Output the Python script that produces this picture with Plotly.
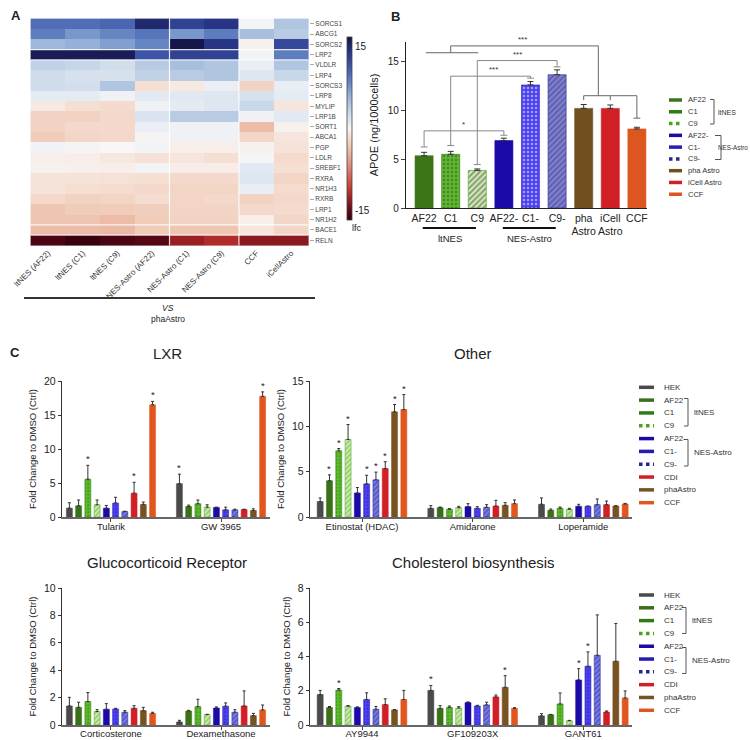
import plotly.graph_objects as go

W, H = 750, 740
FONT = "Liberation Sans, Arial, sans-serif"

# ---------------- Panel A data ----------------
genes = ["SORCS1", "ABCG1", "SORCS2", "LRP2", "VLDLR", "LRP4", "SORCS3", "LRP8", "MYLIP",
         "LRP1B", "SORT1", "ABCA1", "PGP", "LDLR", "SREBF1", "RXRA", "NR1H3", "RXRB",
         "LRP1", "NR1H2", "BACE1", "RELN"]
samples = ["ltNES (AF22)", "ltNES (C1)", "ltNES (C9)", "NES-Astro (AF22)",
           "NES-Astro (C1)", "NES-Astro (C9)", "CCF", "iCellAstro"]
lfc = [
    [10.0, 10.0, 10.5, 15.0, 13.0, 14.0, 0.2, 4.5],
    [9.0, 7.5, 8.5, 9.5, 7.5, 9.0, 5.0, 4.0],
    [5.5, 6.0, 7.0, 8.5, 16.5, 14.0, -0.3, 12.5],
    [16.0, 16.0, 16.0, 11.5, 13.0, 13.0, 0.3, 9.0],
    [3.5, 3.2, 2.3, 4.0, 5.0, 4.5, 0.8, 4.5],
    [2.5, 2.0, 2.0, 3.5, 4.0, 4.5, 1.5, 3.0],
    [2.5, 2.3, 4.5, -1.5, -0.8, 0.7, -2.5, 0.8],
    [1.0, 1.0, 0.5, 1.2, 1.3, 1.5, 2.0, 1.0],
    [-0.8, -1.5, -1.8, 0.5, 1.0, 1.5, 3.0, -1.0],
    [-2.5, -2.5, -2.0, 1.8, 4.0, 4.0, 0.5, 1.2],
    [-2.5, -2.0, -2.0, 0.7, 0.5, 0.5, -4.0, -0.3],
    [-3.0, -2.2, -2.0, 0.2, 0.5, 0.5, -2.2, -1.0],
    [0.4, 0.2, 0.0, 0.3, -0.5, -0.5, -0.3, -1.2],
    [-0.5, -0.5, -0.9, -1.3, -1.0, -1.5, 0.1, -1.8],
    [-0.3, -0.4, -0.5, 0.3, -0.6, -0.6, 1.2, -1.5],
    [-1.2, -1.2, -1.3, -1.5, -2.0, -2.0, 1.5, -2.3],
    [-1.2, -1.5, -1.7, -2.0, -2.3, -2.3, 0.8, -1.8],
    [-2.0, -2.5, -2.3, -1.7, -2.3, -2.0, -2.5, -2.0],
    [-3.5, -3.0, -3.0, -2.7, -2.3, -2.3, -2.0, -1.8],
    [-3.5, -3.5, -4.0, -3.0, -2.5, -2.5, -0.5, -2.2],
    [-4.0, -4.0, -4.2, -3.0, -3.5, -3.5, -1.0, -2.2],
    [-16.0, -17.0, -16.0, -15.5, -13.0, -12.0, -13.5, -13.5],
]
cbar_ticks = [15, -15]

# ---------------- Panel B data ----------------
apoe_groups = ["AF22", "C1", "C9", "AF22-", "C1-", "C9-", "pha<br>Astro", "iCell<br>Astro", "CCF"]
apoe_mean = [5.35, 5.5, 3.85, 6.9, 12.6, 13.65, 10.2, 10.2, 8.1]
apoe_err = [0.35, 0.3, 0.15, 0.25, 0.35, 0.5, 0.4, 0.35, 0.17]
b_legend_names = ["AF22", "C1", "C9", "AF22-", "C1-", "C9-", "pha Astro", "iCell Astro", "CCF"]

# ---------------- Panel C data ----------------
series = ["HEK", "AF22", "C1", "C9", "AF22-", "C1-", "C9-", "CDI", "phaAstro", "CCF"]

tularik_mean = [1.3, 1.65, 5.55, 1.8, 1.3, 2.05, 0.8, 3.5, 1.85, 16.5]
tularik_err = [0.8, 0.85, 2.05, 0.7, 0.4, 0.85, 0.05, 1.6, 0.35, 0.5]
tularik_star = [2, 7, 9]
gw3965_mean = [4.9, 1.55, 1.95, 1.45, 1.4, 1.05, 1.05, 1.1, 0.95, 17.75]
gw3965_err = [1.4, 0.2, 0.55, 0.35, 0.05, 0.4, 0.1, 0.05, 0.25, 0.65]
gw3965_star = [0, 9]

etinostat_mean = [1.7, 4.0, 7.3, 8.55, 2.65, 3.65, 4.1, 5.35, 11.6, 11.85]
etinostat_err = [0.4, 0.65, 0.25, 1.65, 0.6, 0.95, 0.85, 0.75, 0.8, 1.65]
etinostat_star = [1, 2, 3, 5, 6, 7, 8, 9]
amidarone_mean = [0.95, 1.03, 0.85, 1.03, 1.14, 0.95, 1.07, 1.21, 1.29, 1.47]
amidarone_err = [0.3, 0.07, 0.07, 0.15, 0.33, 0.19, 0.29, 0.63, 0.29, 0.41]
amidarone_star = []
loperamide_mean = [1.4, 0.74, 0.96, 0.85, 1.18, 1.18, 1.36, 1.36, 1.21, 1.43]
loperamide_err = [0.7, 0.14, 0.14, 0.11, 0.22, 0.03, 0.63, 0.4, 0.04, 0.07]
loperamide_star = []

corticosterone_mean = [1.39, 1.29, 1.71, 0.98, 1.15, 1.17, 0.93, 1.22, 1.05, 0.85]
corticosterone_err = [0.63, 0.37, 0.66, 0.14, 0.41, 0.05, 0.12, 0.19, 0.24, 0.08]
corticosterone_star = []
dexamethasone_mean = [0.22, 1.02, 1.34, 0.76, 1.24, 1.37, 0.93, 1.39, 0.68, 1.1]
dexamethasone_err = [0.12, 0.05, 0.54, 0.02, 0.08, 0.24, 0.19, 1.1, 0.17, 0.36]
dexamethasone_star = []

ay9944_mean = [1.78, 1.02, 2.04, 1.1, 1.02, 1.49, 0.92, 1.19, 0.88, 1.49]
ay9944_err = [0.24, 0.06, 0.09, 0.03, 0.04, 0.39, 0.16, 0.34, 0.02, 0.53]
ay9944_star = [2]
gf109203x_mean = [2.02, 0.97, 1.03, 0.99, 1.31, 1.11, 1.17, 1.64, 2.2, 0.97]
gf109203x_err = [0.29, 0.16, 0.08, 0.08, 0.04, 0.04, 0.16, 0.11, 0.68, 0.04]
gf109203x_star = [0, 8]
gant61_mean = [0.53, 0.6, 1.23, 0.25, 2.63, 3.43, 4.07, 0.76, 3.72, 1.58]
gant61_err = [0.13, 0.02, 0.64, 0.02, 0.66, 0.84, 2.36, 0.06, 2.21, 0.41]
gant61_star = [4, 5]

lxr_drugs = ["Tularik", "GW 3965"]
other_drugs = ["Etinostat (HDAC)", "Amidarone", "Loperamide"]
gluco_drugs = ["Corticosterone", "Dexamethasone"]
chol_drugs = ["AY9944", "GF109203X", "GANT61"]

# ---------------- helpers (window pixels -> paper fractions) ----------------
def X(p):
    return p / W


def Y(p):
    return 1 - p / H


annotations = []
shapes = []


def text(t, x, y, size, xanchor="center", yanchor="middle", color="#222", **kw):
    annotations.append(dict(text=t, x=X(x), y=Y(y), xref="paper", yref="paper",
                            xanchor=xanchor, yanchor=yanchor, showarrow=False,
                            font=dict(size=size, color=color, family=FONT), **kw))


def pline(x0, y0, x1, y1, color="#555", width=1, dash=None):
    ln = dict(color=color, width=width)
    if dash:
        ln["dash"] = dash
    shapes.append(dict(type="line", xref="paper", yref="paper",
                       x0=X(x0), y0=Y(y0), x1=X(x1), y1=Y(y1), line=ln))


fig = go.Figure()

# ---------------- Panel A: heatmap ----------------
cs = [
    [0.0, "#3a000e"], [0.06, "#660b19"], [0.13, "#a82526"], [0.2, "#cc4d3e"],
    [0.3, "#df8d7b"], [0.4, "#efc7b3"], [0.47, "#f6e5dc"], [0.5, "#f8f6f6"],
    [0.53, "#e5ebf3"], [0.6, "#c3d4e7"], [0.68, "#95b0d7"], [0.76, "#6181c1"],
    [0.84, "#3f56a8"], [0.92, "#263482"], [1.0, "#141244"],
]
fig.add_trace(go.Heatmap(
    z=lfc, x=samples, y=genes, colorscale=cs, zmin=-16.8, zmax=16.8,
    xaxis="x", yaxis="y", hoverongaps=False,
    colorbar=dict(x=X(347), xanchor="left", y=Y(128.5), yanchor="middle",
                  len=183 / H, lenmode="fraction", thickness=5, thicknessmode="pixels",
                  tickvals=cbar_ticks, ticktext=[str(v) for v in cbar_ticks],
                  tickfont=dict(size=10, color="#222"), ticks="", outlinewidth=0.8,
                  outlinecolor="#444", xpad=0, ypad=0),
))
# separators in heatmap
for xb in [3.5, 5.5]:
    shapes.append(dict(type="line", xref="x", yref="y", x0=xb, x1=xb, y0=-0.5, y1=21.5,
                       line=dict(color="rgba(255,255,255,0.85)", width=1.2)))
for yb in [2.5, 3.5, 19.5, 20.5]:
    shapes.append(dict(type="line", xref="x", yref="y", x0=-0.5, x1=7.5, y0=yb, y1=yb,
                       line=dict(color="rgba(255,255,255,0.85)", width=1.2)))

text("<b>A</b>", 9, 15, 13, xanchor="left")
text("lfc", 350, 228, 9, xanchor="left")
pline(24, 298, 315, 298, color="#333", width=2)
text("<i>VS</i>", 168, 308, 8.5)
text("phaAstro", 168, 319, 8.5)

# ---------------- Panel B: bars ----------------
b_colors = ["#3c7518", "#5bb82a", "#d2efb4", "#1c0aa6", "#4b40ef", "#7f7fe8", "#70501f", "#d11f26", "#dd5620"]
b_shape = ["", ".", "/", "", ".", "/", "", "", ""]
b_fg = ["#3c7518", "#2f7d12", "#4aa31e", "#1c0aa6", "#2a1fb5", "#27278d", "#70501f", "#d11f26", "#dd5620"]
b_sol = [0.3, 0.3, 0.5, 0.3, 0.3, 0.5, 0.3, 0.3, 0.3]
fig.add_trace(go.Bar(
    x=list(range(len(apoe_mean))), y=apoe_mean, xaxis="x2", yaxis="y2",
    width=0.68, offset=-0.34,
    marker=dict(color=b_colors, line=dict(width=0.6, color=b_fg),
                pattern=dict(shape=b_shape, fgcolor=b_fg, fillmode="overlay", size=4, solidity=b_sol)),
    error_y=dict(type="data", symmetric=False, array=apoe_err, arrayminus=[0] * len(apoe_err),
                 color="#333", thickness=1, width=3),
))


def bline(x0, y0, x1, y1, color="#888"):
    shapes.append(dict(type="line", xref="x2", yref="y2", x0=x0, y0=y0, x1=x1, y1=y1,
                       line=dict(color=color, width=1)))


def bdrop(x, ytop, yend, color="#888"):
    bline(x, ytop, x, yend, color)
    bline(x - 0.13, yend, x + 0.13, yend, color)


# significance brackets (category index, value units)
for (xl, xr, yb, yl, yr, lab, xt) in [
    (0, 3, 7.9, 6.25, 7.45, "*", 1.5),
    (1, 4, 13.5, 6.4, 13.3, "***", 2.6),
    (2, 5, 15.1, 4.45, 14.45, "***", 3.5),
]:
    bline(xl, yb, xr, yb)
    bdrop(xl, yb, yl)
    bdrop(xr, yb, yr)
    annotations.append(dict(text=lab, x=xt, y=yb, xref="x2", yref="y2", showarrow=False,
                            yanchor="bottom", font=dict(size=8, color="#333", family=FONT)))
# top bracket
dark = "#666"
bline(0.06, 15.9, 2.04, 15.9, dark)
bline(1.0, 15.9, 1.0, 16.6, dark)
bline(1.0, 16.6, 6.55, 16.6, dark)
bline(6.55, 16.6, 6.55, 11.5, dark)
bline(6.0, 11.5, 8.0, 11.5, dark)
bline(6.0, 11.5, 6.0, 11.05, dark)
bline(7.0, 11.5, 7.0, 11.05, dark)
bdrop(8.0, 11.5, 9.2, dark)
annotations.append(dict(text="***", x=3.7, y=16.6, xref="x2", yref="y2", showarrow=False,
                        yanchor="bottom", font=dict(size=8, color="#333", family=FONT)))
# group underlines
for (x0, x1, lab, xt) in [(-0.05, 1.95, "ltNES", 0.98), (2.96, 4.95, "NES-Astro", 3.95)]:
    shapes.append(dict(type="line", xref="x2", yref="paper", x0=x0, x1=x1, y0=Y(228), y1=Y(228),
                       line=dict(color="#111", width=2)))
    annotations.append(dict(text=lab, x=xt, y=Y(238.5), xref="x2", yref="paper", showarrow=False,
                            yanchor="middle", font=dict(size=9.5, color="#222", family=FONT)))
text("<b>B</b>", 389, 17, 13, xanchor="left")

# B legend
for i, nm in enumerate(b_legend_names):
    yy = 100 + 11.78 * i
    pline(669, yy, 682, yy, color=b_fg[i] if b_shape[i] else b_colors[i], width=3.5,
          dash="dot" if b_shape[i] == "/" else None)
    text(nm, 686, yy, 7.5, xanchor="left", color="#333")
pline(714, 99.5, 714, 124, color="#555")
pline(710, 99.5, 714, 99.5, color="#555")
pline(710, 124, 714, 124, color="#555")
text("ltNES", 716, 112, 7, xanchor="left", color="#333")
pline(721, 135.5, 721, 159.5, color="#555")
pline(715, 135.5, 721, 135.5, color="#555")
pline(715, 159.5, 721, 159.5, color="#555")
text("NES-Astro", 749.5, 147.5, 6.3, xanchor="right", color="#333")

# ---------------- Panel C: grouped bars ----------------
s_colors = ["#4a4a4a", "#3a7016", "#5cba2a", "#d4f0b6", "#1b0aa8", "#4c40f0", "#8080ec", "#d21f26", "#785220", "#e0561e"]
s_shape = ["", "", ".", "/", "", ".", "/", "", "", ""]
s_fg = ["#4a4a4a", "#3a7016", "#2e7c12", "#4aa31e", "#1b0aa8", "#261cb2", "#26268c", "#d21f26", "#785220", "#e0561e"]
s_sol = [0.3, 0.3, 0.3, 0.5, 0.3, 0.3, 0.5, 0.3, 0.3, 0.3]

BARGAP = 0.16
panels = [
    ("x3", "y3", lxr_drugs, [tularik_mean, gw3965_mean], [tularik_err, gw3965_err], [tularik_star, gw3965_star]),
    ("x4", "y4", other_drugs, [etinostat_mean, amidarone_mean, loperamide_mean],
     [etinostat_err, amidarone_err, loperamide_err], [etinostat_star, amidarone_star, loperamide_star]),
    ("x5", "y5", gluco_drugs, [corticosterone_mean, dexamethasone_mean],
     [corticosterone_err, dexamethasone_err], [corticosterone_star, dexamethasone_star]),
    ("x6", "y6", chol_drugs, [ay9944_mean, gf109203x_mean, gant61_mean],
     [ay9944_err, gf109203x_err, gant61_err], [ay9944_star, gf109203x_star, gant61_star]),
]
n = len(series)
slot = (1 - BARGAP) / n
for (xa, ya, drugs, means, errs, stars) in panels:
    cats = list(range(len(drugs)))
    for i in range(n):
        fig.add_trace(go.Bar(
            x=cats, y=[m[i] for m in means], xaxis=xa, yaxis=ya, name=series[i],
            marker=dict(color=s_colors[i], line=dict(width=0.5, color=s_fg[i]),
                        pattern=dict(shape=s_shape[i], fgcolor=s_fg[i], fillmode="overlay",
                                     size=3.5, solidity=s_sol[i])),
            error_y=dict(type="data", symmetric=False, array=[e[i] for e in errs],
                         arrayminus=[0] * len(cats), color="#333", thickness=1, width=1.5),
        ))
    for c in cats:
        for i in stars[c]:
            annotations.append(dict(
                text="*", x=c - (1 - BARGAP) / 2 + slot * (i + 0.5), y=means[c][i] + errs[c][i],
                xref=xa, yref=ya, showarrow=False, yanchor="bottom", yshift=-1,
                font=dict(size=9.5, color="#222", family=FONT)))

text("<b>C</b>", 8, 352, 13, xanchor="left")
text("LXR", 167, 353, 15)
text("Other", 473, 353, 15)
text("Glucocorticoid Receptor", 167, 562, 15)
text("Cholesterol biosynthesis", 473, 562, 15)

# C legends
for (ystart, step, br) in [
    (387.3, 12.82, [(688, 398.5, 426, "ltNES", 691.5, 412.5), (688, 439.5, 466, "NES-Astro", 691.5, 452.7)]),
    (595.0, 12.81, [(686, 607.5, 633.5, "ltNES", 690, 620.5), (686, 647.5, 673.5, "NES-Astro", 690, 660.5)]),
]:
    for i, nm in enumerate(series):
        yy = ystart + step * i
        pline(639, yy, 654, yy, color=s_fg[i] if s_shape[i] else s_colors[i], width=3.5,
              dash="dot" if s_shape[i] == "/" else None)
        text(nm, 662, yy, 8, xanchor="left", color="#333")
    for (xv, y0, y1, lab, xt, yt) in br:
        pline(xv, y0, xv, y1, color="#555")
        pline(xv - 4, y0, xv, y0, color="#555")
        pline(xv - 4, y1, xv, y1, color="#555")
        text(lab, xt, yt, 8, xanchor="left", color="#333")

# ---------------- axes ----------------
def c_x(domain, rng, drugs, anchor, standoff):
    return dict(domain=domain, range=rng, anchor=anchor, tickvals=list(range(len(drugs))), ticktext=drugs,
                showline=True, linecolor="#666", linewidth=1.5, ticks="outside", ticklen=3,
                tickcolor="#444", tickfont=dict(size=9.5, color="#222"), showgrid=False, zeroline=False,
                tickangle=0, automargin=False, ticklabelstandoff=standoff)


def c_y(domain, rng, tv, anchor):
    return dict(domain=domain, range=rng, anchor=anchor, tickvals=tv, showline=True, linecolor="#333",
                linewidth=1.2, ticks="outside", ticklen=3, tickcolor="#333",
                tickfont=dict(size=10.5, color="#222"), showgrid=False, zeroline=False, automargin=False,
                title=dict(text="Fold Change to DMSO (Ctrl)", font=dict(size=9.5, color="#222"), standoff=5))


top_dom = [Y(517), Y(381)]
bot_dom = [Y(725), Y(588)]
left_dom = [X(62), X(270)]
right_dom = [X(310), X(632)]

fig.update_layout(
    width=W, height=H, margin=dict(l=0, r=0, t=0, b=0, autoexpand=False),
    paper_bgcolor="white", plot_bgcolor="white", showlegend=False,
    font=dict(family=FONT, color="#222"),
    barmode="group", bargap=BARGAP, bargroupgap=0.35,
    xaxis=dict(domain=[X(30), X(309)], anchor="y", tickangle=-45, tickfont=dict(size=8, color="#333"),
               showgrid=False, zeroline=False, showline=False, ticks="", automargin=False),
    yaxis=dict(domain=[Y(246), Y(18)], anchor="x", side="right", autorange="reversed",
               tickfont=dict(size=6.5, color="#444"), ticks="outside", ticklen=4, tickcolor="#aaa",
               showgrid=False, zeroline=False, showline=False, automargin=False),
    xaxis2=dict(domain=[X(406), X(647)], anchor="y2", range=[-0.68, 8.38],
                tickvals=list(range(len(apoe_groups))), ticktext=apoe_groups, tickangle=0,
                tickfont=dict(size=10.5, color="#222"), showline=True, linecolor="#222", linewidth=1.2,
                ticks="", showgrid=False, zeroline=False, automargin=False),
    yaxis2=dict(domain=[Y(208), Y(42)], anchor="x2", range=[0, 17], tickvals=[0, 5, 10, 15],
                showline=True, linecolor="#222", linewidth=1.2, ticks="outside", ticklen=4,
                tickfont=dict(size=10, color="#222"), showgrid=False, zeroline=False, automargin=False,
                title=dict(text="APOE (ng/1000cells)", font=dict(size=11, color="#222"), standoff=6)),
    xaxis3=c_x(left_dom, [-0.445, 1.445], lxr_drugs, "y3", -3),
    yaxis3=c_y(top_dom, [0, 20], [0, 5, 10, 15, 20], "x3"),
    xaxis4=c_x(right_dom, [-0.47, 2.44], other_drugs, "y4", -3),
    yaxis4=c_y(top_dom, [0, 15], [0, 5, 10, 15], "x4"),
    xaxis5=c_x(left_dom, [-0.445, 1.445], gluco_drugs, "y5", -4),
    yaxis5=c_y(bot_dom, [0, 10], [0, 2, 4, 6, 8, 10], "x5"),
    xaxis6=c_x(right_dom, [-0.47, 2.44], chol_drugs, "y6", -4),
    yaxis6=c_y(bot_dom, [0, 8], [0, 2, 4, 6, 8], "x6"),
    annotations=annotations, shapes=shapes,
)

# the page's default 8px body margin would push the 750x740 figure out of the window
fig.write_html("out.html",
               config={"displayModeBar": False, "staticPlot": True},
               post_script="document.body.style.margin='0px';"
                           "document.documentElement.style.overflow='hidden';")
